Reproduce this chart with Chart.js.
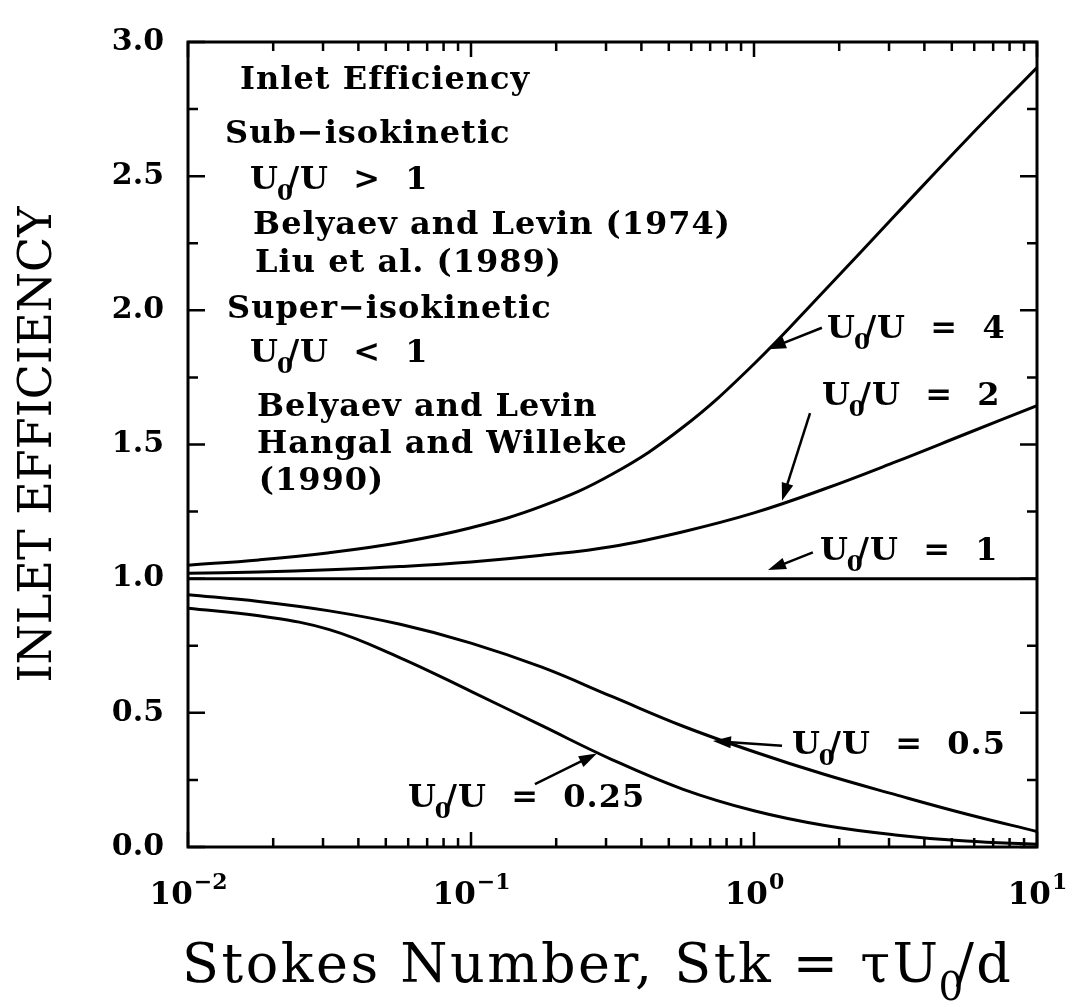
<!DOCTYPE html>
<html><head><meta charset="utf-8">
<script src="https://cdn.jsdelivr.net/npm/chart.js@4/dist/chart.umd.min.js"></script>
<style>html,body{margin:0;padding:0;background:#fff}#wrap{width:1072px;height:1007px;position:relative}</style>
</head><body><div id="wrap"><canvas id="c"></canvas></div>
<script>
// Stokes number (x) sample points
const stokes = [0.01, 0.0178, 0.0316, 0.0562, 0.1, 0.178, 0.316, 0.562, 1, 1.78, 3.16, 5.62, 10];
// Inlet efficiency for each velocity ratio U0/U
const eff4   = [1.05, 1.07, 1.097, 1.135, 1.19, 1.27, 1.39, 1.565, 1.80, 2.075, 2.355, 2.635, 2.905];
const eff2   = [1.02, 1.025, 1.033, 1.045, 1.062, 1.087, 1.12, 1.175, 1.245, 1.335, 1.435, 1.54, 1.645];
const eff1   = [1, 1, 1, 1, 1, 1, 1, 1, 1, 1, 1, 1, 1];
const eff05  = [0.94, 0.915, 0.88, 0.83, 0.76, 0.67, 0.56, 0.45, 0.355, 0.27, 0.195, 0.123, 0.058];
const eff025 = [0.89, 0.862, 0.81, 0.705, 0.58, 0.452, 0.325, 0.215, 0.135, 0.08, 0.045, 0.022, 0.01];
// Axis ticks
const yTickValues = [0, 0.5, 1.0, 1.5, 2.0, 2.5, 3.0];
const xTickValues = [0.01, 0.1, 1, 10];
const xTickExponents = ['−2', '−1', '0', '1'];

const LBL_FONT = '"DejaVu Serif", serif';
const TITLE_FONT = '"DejaVu Serif", serif';

function pts(ys) { return stokes.map((s, i) => ({x: s, y: ys[i]})); }
function ds(label, ys) {
  return {label, data: pts(ys), borderColor: '#000', borderWidth: 3, pointRadius: 0,
          fill: false, tension: 0.4};
}

// Annotations (positions in data coordinates: x = Stokes number, y = efficiency)
const L = v => Math.pow(10, v);
const notes = [
  {t: 'Inlet Efficiency',          x: L(-1.816), y: 2.854},
  {t: 'Sub−isokinetic',            x: L(-1.869), y: 2.653},
  {t: 'U_0/U  >  1',               x: L(-1.781), y: 2.484},
  {t: 'Belyaev and Levin (1974)',  x: L(-1.770), y: 2.316},
  {t: 'Liu et al. (1989)',         x: L(-1.763), y: 2.173},
  {t: 'Super−isokinetic',          x: L(-1.862), y: 2.001},
  {t: 'U_0/U  <  1',               x: L(-1.781), y: 1.840},
  {t: 'Belyaev and Levin',         x: L(-1.756), y: 1.639},
  {t: 'Hangal and Willeke',        x: L(-1.756), y: 1.500},
  {t: '(1990)',                    x: L(-1.750), y: 1.361},
  {t: 'U_0/U  =  4',    x: L(0.258),  y: 1.928},
  {t: 'U_0/U  =  2',    x: L(0.240),  y: 1.679},
  {t: 'U_0/U  =  1',    x: L(0.233),  y: 1.101},
  {t: 'U_0/U  =  0.5',  x: L(0.134),  y: 0.377},
  {t: 'U_0/U  =  0.25', x: L(-1.223), y: 0.179}
];
const arrows = [
  {x1: L(0.240), y1: 1.935, x2: L(0.0495), y2: 1.855},
  {x1: L(0.198), y1: 1.617, x2: L(0.099),  y2: 1.29},
  {x1: L(0.208), y1: 1.098, x2: L(0.0495), y2: 1.032},
  {x1: L(0.099), y1: 0.377, x2: L(-0.145), y2: 0.395},
  {x1: L(-0.774), y1: 0.234, x2: L(-0.555), y2: 0.348}
];

function drawRich(ctx, str, x, y, size) {
  const parts = str.split('_');
  ctx.textBaseline = 'middle';
  ctx.textAlign = 'left';
  ctx.letterSpacing = '1px';
  const big = `bold ${size}px ${LBL_FONT}`;
  const small = `bold ${Math.round(size * 0.72)}px ${LBL_FONT}`;
  ctx.font = big;
  ctx.fillText(parts[0], x, y);
  x += ctx.measureText(parts[0]).width;
  for (let i = 1; i < parts.length; i++) {
    const ch = parts[i][0], rest = parts[i].slice(1);
    ctx.font = small;
    ctx.fillText(ch, x - 2, y + size * 0.42);
    x += ctx.measureText(ch).width * 0.5;
    ctx.font = big;
    ctx.fillText(rest, x, y);
    x += ctx.measureText(rest).width;
  }
  ctx.letterSpacing = '0px';
}

const decor = {
  id: 'decor',
  afterDatasetsDraw(chart) {
    const ctx = chart.ctx, a = chart.chartArea;
    const xs = chart.scales.x, ys = chart.scales.y;
    ctx.save();
    ctx.strokeStyle = '#000'; ctx.fillStyle = '#000';
    // frame
    ctx.lineWidth = 3;
    ctx.strokeRect(a.left, a.top, a.right - a.left, a.bottom - a.top);
    // y ticks (both sides, inward)
    ctx.lineWidth = 2.5;
    for (let k = 0; k <= 12; k++) {
      const v = k * 0.25, py = ys.getPixelForValue(v);
      const len = (k % 2 === 0) ? 17 : 10;
      ctx.beginPath();
      ctx.moveTo(a.left, py); ctx.lineTo(a.left + len, py);
      ctx.moveTo(a.right, py); ctx.lineTo(a.right - len, py);
      ctx.stroke();
    }
    // x ticks (top and bottom, inward)
    for (let d = -2; d <= 1; d++) {
      for (let m = 1; m <= 9; m++) {
        if (d === 1 && m > 1) break;
        const v = m * Math.pow(10, d), px = xs.getPixelForValue(v);
        const len = (m === 1) ? 15 : 9;
        ctx.beginPath();
        ctx.moveTo(px, a.bottom); ctx.lineTo(px, a.bottom - len);
        ctx.moveTo(px, a.top); ctx.lineTo(px, a.top + len);
        ctx.stroke();
      }
    }
    // x tick labels 10^n
    ctx.textBaseline = 'alphabetic'; ctx.textAlign = 'left';
    xTickValues.forEach((v, i) => {
      const px = xs.getPixelForValue(v);
      ctx.font = `bold 31px ${LBL_FONT}`;
      const w1 = ctx.measureText('10').width;
      ctx.font = `bold 22px ${LBL_FONT}`;
      const w2 = ctx.measureText(xTickExponents[i]).width;
      const x0 = px - (w1 + w2) / 2;
      ctx.font = `bold 31px ${LBL_FONT}`;
      ctx.fillText('10', x0, a.bottom + 57);
      ctx.font = `bold 22px ${LBL_FONT}`;
      ctx.fillText(xTickExponents[i], x0 + w1 + 1, a.bottom + 42);
    });
    // x axis title with subscript
    ctx.textBaseline = 'middle';
    ctx.letterSpacing = '2.5px';
    ctx.font = `54px ${TITLE_FONT}`;
    let tx = 182; const ty = 968;
    const t1 = 'Stokes Number, Stk = τU';
    ctx.fillText(t1, tx, ty); tx += ctx.measureText(t1).width;
    ctx.font = `39px ${TITLE_FONT}`;
    ctx.fillText('0', tx - 2, ty + 22); tx += ctx.measureText('0').width * 0.55;
    ctx.font = `54px ${TITLE_FONT}`;
    ctx.fillText('/d', tx, ty);
    ctx.letterSpacing = '0px';
    // annotations
    notes.forEach(n => drawRich(ctx, n.t, xs.getPixelForValue(n.x), ys.getPixelForValue(n.y), 32));
    // arrows
    ctx.lineWidth = 2.5;
    arrows.forEach(ar => {
      const x1 = xs.getPixelForValue(ar.x1), y1 = ys.getPixelForValue(ar.y1);
      const x2 = xs.getPixelForValue(ar.x2), y2 = ys.getPixelForValue(ar.y2);
      const ang = Math.atan2(y2 - y1, x2 - x1), hl = 18, hw = 6;
      ctx.beginPath(); ctx.moveTo(x1, y1);
      ctx.lineTo(x2 - Math.cos(ang) * hl * 0.8, y2 - Math.sin(ang) * hl * 0.8); ctx.stroke();
      ctx.beginPath();
      ctx.moveTo(x2, y2);
      ctx.lineTo(x2 - Math.cos(ang) * hl - Math.sin(ang) * hw, y2 - Math.sin(ang) * hl + Math.cos(ang) * hw);
      ctx.lineTo(x2 - Math.cos(ang) * hl + Math.sin(ang) * hw, y2 - Math.sin(ang) * hl - Math.cos(ang) * hw);
      ctx.closePath(); ctx.fill();
    });
    ctx.restore();
  }
};

new Chart(document.getElementById('c'), {
  type: 'line',
  data: {datasets: [ds('U0/U = 4', eff4), ds('U0/U = 2', eff2), ds('U0/U = 1', eff1),
                    ds('U0/U = 0.5', eff05), ds('U0/U = 0.25', eff025)]},
  options: {
    responsive: true, maintainAspectRatio: false, animation: false,
    layout: {padding: {top: 27, right: 35, left: 0, bottom: 0}},
    plugins: {legend: {display: false}, tooltip: {enabled: false}},
    scales: {
      x: {type: 'logarithmic', min: 0.01, max: 10, position: 'bottom',
          grid: {display: false, drawTicks: false}, border: {display: false},
          ticks: {display: false},
          afterFit: s => { s.height = 160; }},
      y: {type: 'linear', min: 0, max: 3,
          grid: {display: false, drawTicks: false}, border: {display: false},
          afterBuildTicks: s => { s.ticks = yTickValues.map(v => ({value: v})); },
          ticks: {color: '#000', padding: 24, font: {family: LBL_FONT, weight: 'bold', size: 30},
                  callback: v => Number(v).toFixed(1)},
          title: {display: true, text: 'INLET EFFICIENCY', color: '#000',
                  font: {family: TITLE_FONT, size: 46}, padding: {top: 11, bottom: 0}},
          afterFit: s => { s.width = 188; }}
    }
  },
  plugins: [decor]
});
</script></body></html>
